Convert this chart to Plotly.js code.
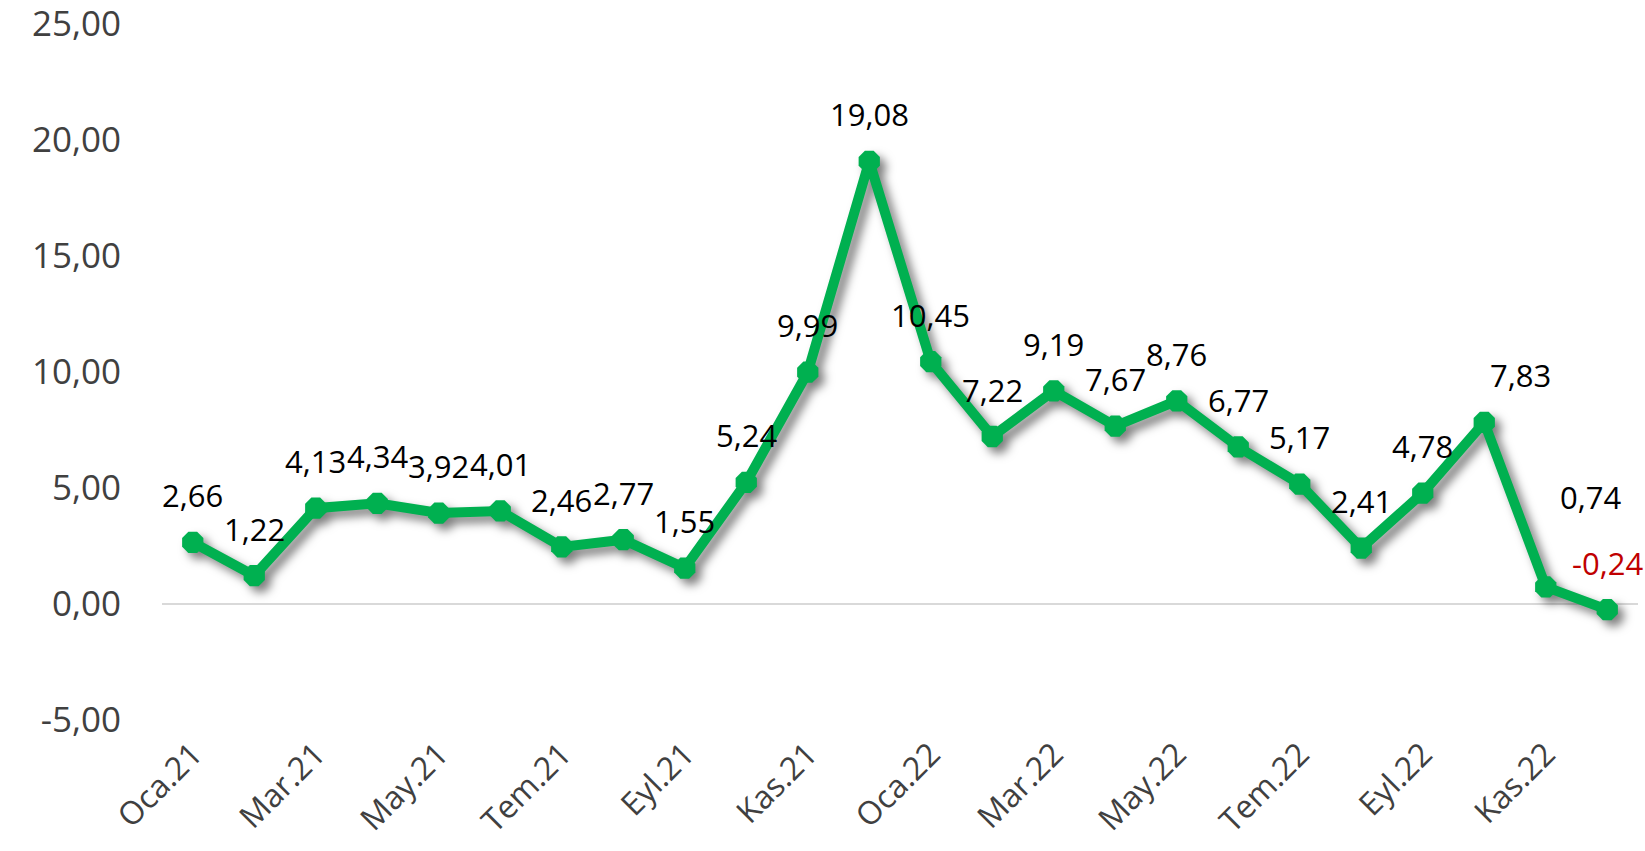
<!DOCTYPE html>
<html>
<head>
<meta charset="utf-8">
<script src="https://cdn.plot.ly/plotly-3.0.1.min.js"></script>
<style>
  html, body { margin: 0; padding: 0; background: #fff; }
  #chart { width: 1645px; height: 851px; }
  .scatterlayer .trace { filter: drop-shadow(6px 6px 5px rgba(0,0,0,0.5)); }
</style>
</head>
<body>
<div id="chart"></div>
<script>
// ---- data ----
const months = ["Oca.21","Şub.21","Mar.21","Nis.21","May.21","Haz.21","Tem.21","Ağu.21","Eyl.21","Eki.21","Kas.21","Ara.21",
                "Oca.22","Şub.22","Mar.22","Nis.22","May.22","Haz.22","Tem.22","Ağu.22","Eyl.22","Eki.22","Kas.22","Ara.22"];
const values = [2.66, 1.22, 4.13, 4.34, 3.92, 4.01, 2.46, 2.77, 1.55, 5.24, 9.99, 19.08,
                10.45, 7.22, 9.19, 7.67, 8.76, 6.77, 5.17, 2.41, 4.78, 7.83, 0.74, -0.24];
const tickLabels = ["Oca.21","Mar.21","May.21","Tem.21","Eyl.21","Kas.21","Oca.22","Mar.22","May.22","Tem.22","Eyl.22","Kas.22"];
const yTicks = [-5, 0, 5, 10, 15, 20, 25];

// ---- label placement nudges (style, not data) ----
const nudges = { 21: {dx: 36, dy: 0}, 22: {dx: 45, dy: 43} };

const fmt = v => v.toFixed(2).replace('.', ',');

const annotations = values.map((v, i) => {
  const n = nudges[i] || {dx: 0, dy: 0};
  return {
    x: months[i], y: v, xref: 'x', yref: 'y',
    text: fmt(v), showarrow: false,
    xanchor: 'center', yanchor: 'middle',
    xshift: n.dx, yshift: 47 + n.dy,
    font: {family: 'Open Sans, sans-serif', size: 31, color: v < 0 ? '#C00000' : '#000000'}
  };
});

const trace = {
  x: months, y: values, type: 'scatter', mode: 'lines+markers',
  line: {color: '#00B050', width: 10},
  marker: {symbol: 'octagon', size: 23, color: '#00B050', line: {width: 0}},
  hoverinfo: 'x+y'
};

const layout = {
  width: 1645, height: 851,
  margin: {l: 162, r: 7, t: 24, b: 131},
  paper_bgcolor: '#fff', plot_bgcolor: '#fff',
  separators: ', ',
  showlegend: false,
  xaxis: {
    type: 'category', range: [-0.5, 23.5],
    tickmode: 'array', tickvals: tickLabels, ticktext: tickLabels,
    tickangle: -45, showgrid: false, zeroline: false, showline: false, ticks: '',
    ticklabelstandoff: 8, ticklabeloverflow: 'allow',
    tickfont: {family: 'Open Sans, sans-serif', size: 32, color: '#404040'}
  },
  yaxis: {
    range: [-5, 25], tickmode: 'array', tickvals: yTicks,
    ticktext: yTicks.map(fmt),
    showgrid: false, zeroline: true, zerolinecolor: '#D9D9D9', zerolinewidth: 2,
    showline: false, ticks: '', ticklabelstandoff: 40, ticklabeloverflow: 'allow',
    tickfont: {family: 'Open Sans, sans-serif', size: 35, color: '#404040'}
  },
  annotations: annotations
};

Plotly.newPlot('chart', [trace], layout, {displayModeBar: false, staticPlot: true});
</script>
</body>
</html>
